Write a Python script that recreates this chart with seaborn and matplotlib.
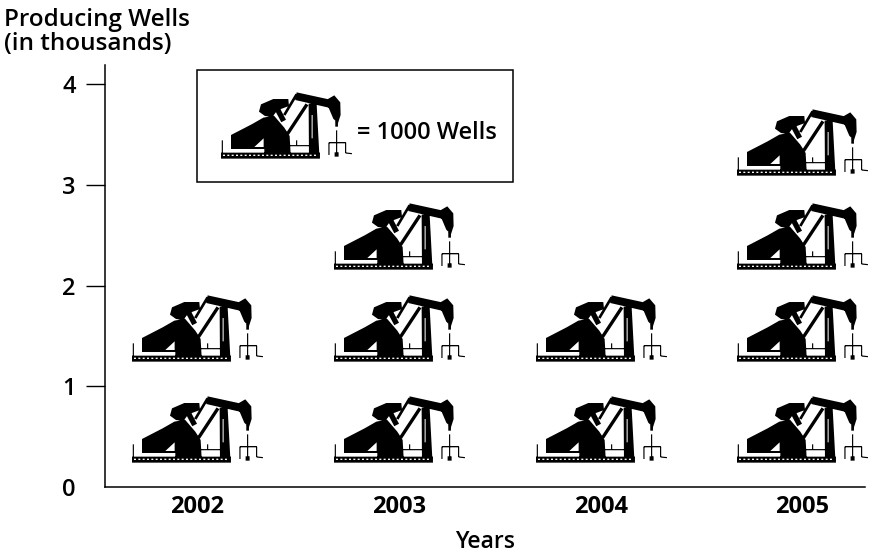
import numpy as np
import pandas as pd
import matplotlib
matplotlib.use("Agg")
import matplotlib.pyplot as plt
import seaborn as sns
from matplotlib.patches import Rectangle
from matplotlib.path import Path

# chart values
years = [2002, 2003, 2004, 2005]
wells_thousands = [2, 3, 2, 4]
y_ticks = [0, 1, 2, 3, 4]
row_heights = [0.58, 1.58, 2.49, 3.43]
legend_label = "= 1000 Wells"

sns.set_theme(style="ticks")
plt.rcParams["font.family"] = ["Open Sans", "DejaVu Sans"]
plt.rcParams["text.color"] = "black"
plt.rcParams["xtick.labelcolor"] = "black"
plt.rcParams["ytick.labelcolor"] = "black"


# one icon per thousand wells, stacked in each year
rows = []
for year, count in zip(years, wells_thousands):
    for k in range(count):
        rows.append({"Year": year, "Wells": row_heights[k]})
icons = pd.DataFrame(rows)


def stroke(p0, p1, w):
    # thin quad between two points
    p0, p1 = np.array(p0, float), np.array(p1, float)
    d = p1 - p0
    n = np.array([-d[1], d[0]]) / np.hypot(*d) * w / 2
    return [p0 + n, p1 + n, p1 - n, p0 - n]


def box(x0, y0, x1, y1):
    return [(x0, y0), (x1, y0), (x1, y1), (x0, y1)]


def area(poly):
    x, y = np.array(poly, float).T
    return 0.5 * np.sum(x * np.roll(y, -1) - y * np.roll(x, -1))


# pump jack glyph, traced in pixels off the picture
solid = [
    # engine block
    [(68, 160), (130, 128), (165, 108), (197, 102), (228, 138), (244, 163), (247, 216),
     (168, 216), (168, 202), (68, 202)],
    # counterweight
    [(152, 90), (158, 68), (195, 52), (240, 52), (242, 73), (207, 86), (192, 106),
     (170, 103)],
    stroke((206, 80), (226, 118), 16),
    # struts and walking beam
    stroke((238, 156), (296, 68), 10),
    stroke((265, 38), (228, 100), 8),
    [(265, 32), (366, 54), (366, 79), (261, 55)],
    # horse head
    [(359, 52), (378, 41), (396, 62), (397, 100), (389, 125), (375, 111), (361, 78)],
    stroke((385, 118), (385, 135), 8),
    stroke((385, 146), (385, 222), 3.5),
    # tower
    [(301, 66), (325, 66), (333, 216), (302, 216)],
    # small pipe
    stroke((362, 183), (412, 183), 4),
    stroke((362, 183), (362, 220), 3.5),
    stroke((412, 183), (412, 214), 3.5),
    stroke((412, 214), (431, 216), 3.5),
    box(379, 212, 391, 225),
    # dotted frame
    stroke((42, 176), (42, 216), 3.5),
    stroke((243, 192), (308, 192), 3.5),
    stroke((265, 176), (265, 192), 3.5),
    # base
    box(38, 213, 335, 231),
]
holes = [
    [(138, 196), (166, 196), (166, 170)],
    box(310, 100, 313, 170),
]
holes += [box(x, 219, x + 6, 223) for x in range(44, 330, 13)]

parts = []
for p in solid:
    p = [tuple(v) for v in p]
    parts.append(p if area(p) > 0 else p[::-1])
for p in holes:
    p = [tuple(v) for v in p]
    parts.append(p if area(p) < 0 else p[::-1])

verts, codes = [], []
for p in parts:
    verts += p + [p[0]]
    codes += [Path.MOVETO] + [Path.LINETO] * (len(p) - 1) + [Path.CLOSEPOLY]
verts = np.array(verts, float)
verts[:, 1] *= -1
verts -= (verts.max(axis=0) + verts.min(axis=0)) / 2
pump_jack = Path(verts, codes)

# glyph is 131 px wide; marker size is its full width in points
icon_pts = 131 * 72 / 100

fig = plt.figure(figsize=(8.81, 5.59), dpi=100)
ax = fig.add_axes([105 / 881, (559 - 487) / 559, 760 / 881, 422 / 559])

sns.scatterplot(data=icons, x="Year", y="Wells", marker=pump_jack, s=icon_pts ** 2,
                color="black", linewidth=0, ax=ax, legend=False, clip_on=False)

# legend box, key icon and label placed by hand as in the picture
ax.add_patch(Rectangle((92 / 760, (487 - 182) / 422), 316 / 760, 112 / 422, transform=ax.transAxes,
                       facecolor="white", edgecolor="black", linewidth=1.1, zorder=3))
key = pd.DataFrame({"Year": [2002.441], "Wells": [3.594]})
sns.scatterplot(data=key, x="Year", y="Wells", marker=pump_jack, s=icon_pts ** 2,
                color="black", linewidth=0, ax=ax, legend=False, zorder=4)
ax.text(2002.793, 3.515, legend_label, fontsize=17, fontweight="semibold", va="center", zorder=4)

ax.set_xlim(2001.544, 2005.31)
ax.set_ylim(0, 4.19)
ax.set_xticks(years)
ax.set_yticks(y_ticks)
ax.tick_params(axis="x", length=0, pad=6, labelsize=17)
ax.tick_params(axis="y", length=14, width=1, pad=7, labelsize=17, color="black")
ax.yaxis.get_major_ticks()[0].tick1line.set_visible(False)
for lab in ax.get_xticklabels():
    lab.set_fontweight("bold")
for lab in ax.get_yticklabels():
    lab.set_fontweight("semibold")
sns.despine(ax=ax)
for s in ["left", "bottom"]:
    ax.spines[s].set_color("black")
    ax.spines[s].set_linewidth(1.1)

ax.set_xlabel("Years", fontsize=16.5, labelpad=8, color="black", fontweight="semibold")
ax.set_ylabel("Producing Wells\n(in thousands)", fontsize=17.5, rotation=0, ha="left", va="top",
              color="black", linespacing=1.0, fontweight="semibold")
ax.yaxis.set_label_coords(-101 / 760, 1 + 57 / 422)

fig.savefig("out.png", dpi=100)
